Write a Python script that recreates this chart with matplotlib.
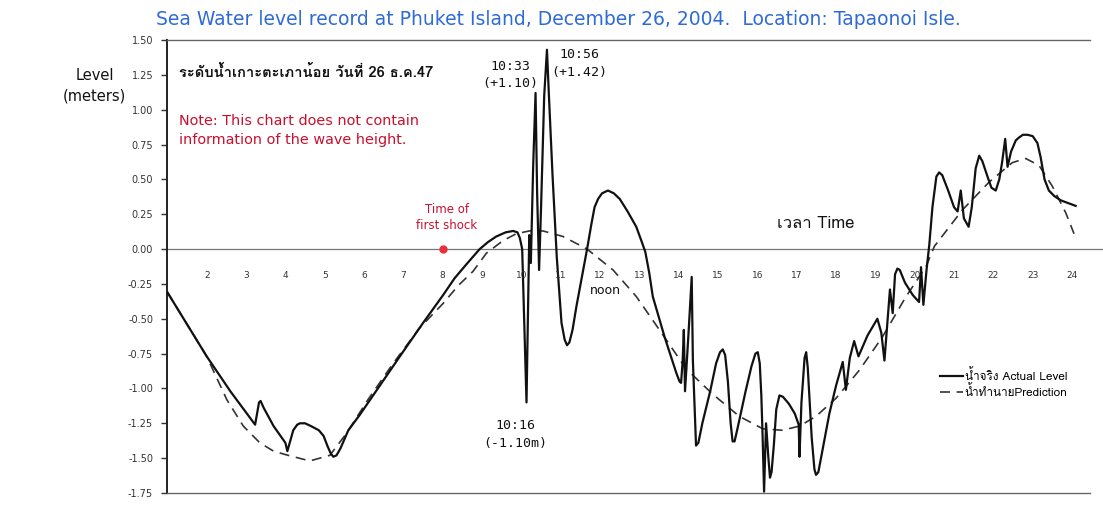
import matplotlib
matplotlib.use("Agg")
import matplotlib.pyplot as plt
from matplotlib import font_manager as fm
from matplotlib.ft2font import FT2Font

# ---------------- data ----------------
actual_x = [1.00, 1.50, 2.00, 2.60, 3.23, 3.28, 3.33, 3.37, 3.45, 3.70, 4.00, 4.05, 4.10, 4.20,
            4.30, 4.37, 4.50, 4.65, 4.85, 4.97, 5.08, 5.16, 5.22, 5.30, 5.40, 5.60, 5.89, 6.40,
            6.91, 7.50, 8.01, 8.30, 8.60, 8.94, 9.15, 9.36, 9.60, 9.79, 9.90, 9.96, 10.02, 10.07,
            10.13, 10.20, 10.24, 10.30, 10.36, 10.40, 10.45, 10.50, 10.58, 10.65, 10.70, 10.79,
            10.90, 11.02, 11.10, 11.16, 11.22, 11.30, 11.40, 11.55, 11.67, 11.78, 11.86, 11.95,
            12.05, 12.20, 12.35, 12.50, 12.70, 12.92, 13.05, 13.15, 13.25, 13.34, 13.64, 13.94,
            14.02, 14.06, 14.10, 14.13, 14.16, 14.25, 14.33, 14.36, 14.44, 14.50, 14.60, 14.80,
            14.95, 15.05, 15.12, 15.18, 15.25, 15.32, 15.37, 15.42, 15.50, 15.70, 15.85, 15.95,
            16.01, 16.06, 16.10, 16.13, 16.17, 16.22, 16.28, 16.32, 16.36, 16.42, 16.48, 16.56,
            16.65, 16.80, 16.95, 17.05, 17.07, 17.12, 17.20, 17.24, 17.28, 17.38, 17.45, 17.49,
            17.55, 17.65, 17.83, 18.00, 18.17, 18.25, 18.35, 18.46, 18.57, 18.80, 19.05, 19.15,
            19.23, 19.37, 19.44, 19.50, 19.56, 19.62, 19.75, 19.95, 20.11, 20.16, 20.22, 20.30,
            20.37, 20.45, 20.55, 20.62, 20.70, 20.85, 21.00, 21.09, 21.17, 21.25, 21.37, 21.45,
            21.55, 21.64, 21.72, 21.85, 21.95, 22.06, 22.15, 22.22, 22.30, 22.36, 22.45, 22.57,
            22.65, 22.75, 22.87, 23.00, 23.12, 23.20, 23.30, 23.41, 23.55, 23.71, 23.90, 24.09]
actual_y = [-0.31, -0.54, -0.77, -1.02, -1.26, -1.18, -1.10, -1.09, -1.14, -1.27, -1.39, -1.45,
            -1.40, -1.30, -1.26, -1.25, -1.25, -1.27, -1.30, -1.34, -1.42, -1.47, -1.49, -1.48,
            -1.43, -1.30, -1.19, -0.98, -0.77, -0.53, -0.33, -0.21, -0.11, 0.00, 0.05, 0.09,
            0.12, 0.13, 0.12, 0.08, 0.00, -0.50, -1.10, 0.10, -0.10, 0.60, 1.12, 0.40, -0.15,
            0.30, 1.10, 1.43, 1.10, 0.54, -0.06, -0.53, -0.65, -0.69, -0.67, -0.58, -0.41,
            -0.18, 0.00, 0.18, 0.30, 0.36, 0.40, 0.42, 0.40, 0.36, 0.27, 0.16, 0.06, -0.02,
            -0.17, -0.34, -0.63, -0.89, -0.95, -0.96, -0.80, -0.58, -1.02, -0.60, -0.20, -0.80,
            -1.41, -1.39, -1.25, -1.02, -0.82, -0.74, -0.72, -0.76, -0.95, -1.25, -1.38, -1.38,
            -1.28, -1.02, -0.84, -0.75, -0.74, -0.82, -1.05, -1.32, -1.74, -1.25, -1.50, -1.64,
            -1.60, -1.40, -1.15, -1.05, -1.06, -1.11, -1.18, -1.26, -1.49, -1.10, -0.78, -0.74,
            -0.85, -1.35, -1.58, -1.62, -1.60, -1.45, -1.18, -0.98, -0.81, -1.01, -0.78, -0.66,
            -0.77, -0.62, -0.50, -0.60, -0.80, -0.29, -0.46, -0.18, -0.14, -0.15, -0.24, -0.33,
            -0.38, -0.13, -0.40, -0.15, 0.03, 0.30, 0.52, 0.55, 0.53, 0.42, 0.30, 0.27, 0.42,
            0.22, 0.16, 0.30, 0.58, 0.67, 0.63, 0.52, 0.44, 0.42, 0.50, 0.62, 0.79, 0.59, 0.70,
            0.78, 0.80, 0.82, 0.82, 0.81, 0.76, 0.66, 0.50, 0.42, 0.38, 0.35, 0.33, 0.31]

pred_x = [1.00, 1.50, 2.00, 2.51, 2.93, 3.35, 3.70, 4.07, 4.62, 5.13, 5.56, 6.10, 6.74, 7.40,
          8.01, 8.40, 8.77, 9.11, 9.53, 9.87, 10.20, 10.55, 11.06, 11.67, 12.33, 12.92, 13.51,
          14.19, 14.86, 15.54, 16.14, 16.64, 17.07, 17.49, 18.00, 18.59, 19.18, 19.78, 20.28,
          20.50, 21.21, 21.89, 22.48, 22.82, 23.16, 23.50, 23.84, 24.05]
pred_y = [-0.31, -0.54, -0.77, -1.08, -1.27, -1.39, -1.45, -1.48, -1.52, -1.48, -1.32, -1.08,
          -0.82, -0.57, -0.39, -0.26, -0.16, -0.03, 0.06, 0.11, 0.13, 0.13, 0.09, 0.00, -0.15,
          -0.34, -0.58, -0.86, -1.04, -1.20, -1.29, -1.30, -1.27, -1.20, -1.07, -0.87, -0.63,
          -0.34, -0.13, 0.02, 0.28, 0.48, 0.62, 0.65, 0.60, 0.45, 0.26, 0.11]

hour_labels = [str(h) for h in range(2, 25)]
hour_pos = list(range(2, 25))
y_ticks = [1.50, 1.25, 1.00, 0.75, 0.50, 0.25, 0.00, -0.25, -0.50, -0.75, -1.00, -1.25, -1.50, -1.75]
y_tick_labels = ["1.50", "1.25", "1.00", "0.75", "0.50", "0.25", "0.00", "-0.25", "-0.50",
                 "-0.75", "-1.00", "-1.25", "-1.50", "-1.75"]

shock_x, shock_y = 8.0, 0.0

title = "Sea Water level record at Phuket Island, December 26, 2004.  Location: Tapaonoi Isle."
thai_title = "ระดับน้ำเกาะตะเภาน้อย วันที่ 26 ธ.ค.47"
label_actual = "น้ำจริง Actual Level"
label_pred = "น้ำทำนายPrediction"

# ---------------- fonts ----------------
thai_family = None
for f in fm.fontManager.ttflist:
    try:
        if 0x0E01 in FT2Font(f.fname).get_charmap():
            thai_family = f.name
            break
    except Exception:
        pass
fam_thai = ([thai_family] if thai_family else []) + ["DejaVu Sans"]

plt.rcParams['font.family'] = ['DejaVu Sans']

# ---------------- figure ----------------
fig = plt.figure(figsize=(11.03, 5.05), dpi=100)
ax = fig.add_axes([0.1514, 0.0238, 0.8366, 0.8970])
ax.set_xlim(0.99, 24.45)
ax.set_ylim(-1.75, 1.5)

ax.axhline(0, color="#777777", lw=0.9, xmax=1.02, clip_on=False, zorder=1)

l1, = ax.plot(actual_x, actual_y, color="#111111", lw=1.6, solid_joinstyle="round", zorder=3)
l2, = ax.plot(pred_x, pred_y, color="#333333", lw=1.2, linestyle=(0, (6, 4)), zorder=2)

ax.plot([shock_x], [shock_y], "o", color="#e8303a", ms=5, zorder=4)

# spines
ax.spines["right"].set_visible(False)
ax.spines["left"].set_linewidth(1.4)
ax.spines["left"].set_color("#222222")
for s in ["top", "bottom"]:
    ax.spines[s].set_linestyle((0, (2, 1)))
    ax.spines[s].set_color("#666666")
    ax.spines[s].set_linewidth(1.0)

ax.set_xticks([])
ax.set_yticks(y_ticks)
ax.set_yticklabels(y_tick_labels)
ax.tick_params(axis="y", direction="out", length=4, width=1, labelsize=7, pad=6, colors="#333333")

for hp, hl in zip(hour_pos, hour_labels):
    ax.text(hp, -0.19, hl, ha="center", va="center", fontsize=6.5, color="#333333")

# texts
fig.text(0.506, 0.962, title, ha="center", va="center", fontsize=13.5, color="#2f6bd6")
fig.text(0.086, 0.851, "Level", ha="center", va="center", fontsize=10.5, color="#111111")
fig.text(0.086, 0.810, "(meters)", ha="center", va="center", fontsize=10.5, color="#111111")

ax.text(1.3, 1.27, thai_title, ha="left", va="center", fontsize=10.6, fontweight="bold",
        family=fam_thai, color="#111111")
ax.text(1.3, 0.85, "Note: This chart does not contain\ninformation of the wave height.",
        ha="left", va="center", fontsize=10.4, color="#c8102e", linespacing=1.4)
ax.text(8.1, 0.23, "Time of\nfirst shock", ha="center", va="center", fontsize=8.5,
        color="#c8102e", linespacing=1.3)
ax.text(9.71, 1.25, "10:33\n(+1.10)", ha="center", va="center", fontsize=9.5,
        family="DejaVu Sans Mono", color="#111111", linespacing=1.45)
ax.text(11.48, 1.33, "10:56\n(+1.42)", ha="center", va="center", fontsize=9.5,
        family="DejaVu Sans Mono", color="#111111", linespacing=1.45)
ax.text(9.85, -1.33, "10:16\n(-1.10m)", ha="center", va="center", fontsize=9.5,
        family="DejaVu Sans Mono", color="#111111", linespacing=1.45)
ax.text(12.13, -0.30, "noon", ha="center", va="center", fontsize=9, color="#111111")
ax.text(16.5, 0.18, "เวลา Time", ha="left", va="center", fontsize=12, family=fam_thai,
        color="#111111")

leg = ax.legend([l1, l2], [label_actual, label_pred], loc="upper left",
                bbox_to_anchor=(0.826, 0.300), frameon=False,
                handlelength=2.0, handletextpad=0.1, labelspacing=0.2,
                prop={"family": fam_thai, "size": 8.5})

fig.savefig("out.png", dpi=100)
